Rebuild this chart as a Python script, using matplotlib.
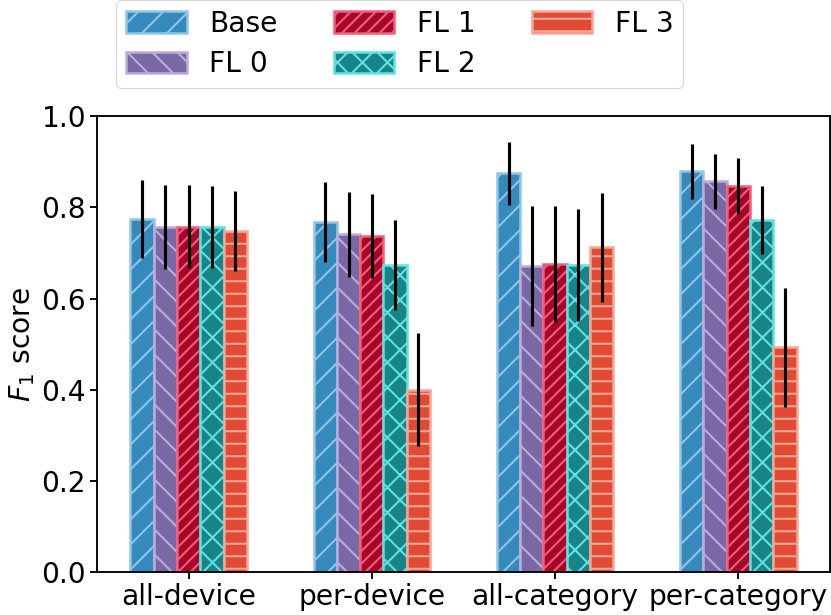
import numpy as np
import matplotlib
matplotlib.use("Agg")
import matplotlib.pyplot as plt

# data
groups = ['all-device', 'per-device', 'all-category', 'per-category']
series = ['Base', 'FL 0', 'FL 1', 'FL 2', 'FL 3']

base_mean = [0.774, 0.768, 0.874, 0.879]
fl0_mean = [0.757, 0.741, 0.671, 0.857]
fl1_mean = [0.757, 0.737, 0.676, 0.847]
fl2_mean = [0.756, 0.673, 0.673, 0.772]
fl3_mean = [0.748, 0.400, 0.712, 0.493]

base_err = [0.086, 0.088, 0.068, 0.060]
fl0_err = [0.092, 0.093, 0.131, 0.060]
fl1_err = [0.091, 0.093, 0.127, 0.062]
fl2_err = [0.090, 0.098, 0.123, 0.075]
fl3_err = [0.087, 0.124, 0.120, 0.130]

means = [base_mean, fl0_mean, fl1_mean, fl2_mean, fl3_mean]
errs = [base_err, fl0_err, fl1_err, fl2_err, fl3_err]

face_colors = ['#348ABD', '#7A68A6', '#A60628', '#188487', '#E24A33']
edge_colors = ['#92C5E6', '#BAAED8', '#F45D7A', '#5FE2E2', '#F3A797']
hatches = ['/', '\\', '//', 'x', '-']

plt.rcParams['font.size'] = 27
plt.rcParams['hatch.linewidth'] = 2.0
plt.rcParams['axes.linewidth'] = 1.8

fig = plt.figure(figsize=(831 / 75, 615 / 75), dpi=75)
ax = fig.add_axes([0.1167, 0.0694, 0.8821, 0.742])

x = np.arange(len(groups))
width = 0.127
for i in range(len(series)):
    offset = (i - 2) * width
    ax.bar(x + offset, means[i], width, yerr=errs[i],
           color=face_colors[i], edgecolor=edge_colors[i], linewidth=2.4,
           hatch=hatches[i], label=series[i],
           error_kw=dict(ecolor='black', elinewidth=3, capsize=0))

ax.set_xlim(-0.5, 3.5)
ax.set_ylim(0, 1.0)
ax.set_xticks(x)
ax.set_xticklabels(groups)
ax.set_yticks([0.0, 0.2, 0.4, 0.6, 0.8, 1.0])
ax.set_ylabel('$F_1$ score')
ax.tick_params(length=7, width=1.8)

fig.legend(loc='upper center', bbox_to_anchor=(0.481, 1.0), ncol=3,
           borderaxespad=0.0, handlelength=2.15, handleheight=0.8,
           labelspacing=0.45, borderpad=0.35)

fig.savefig('out.png', dpi=75)
